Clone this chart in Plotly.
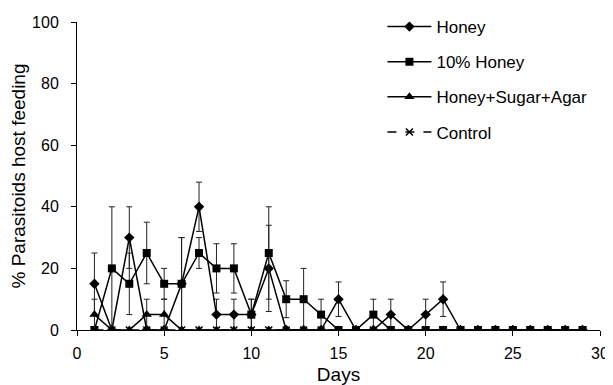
import plotly.graph_objects as go

days = list(range(1, 30))
honey = [15, 0, 30, 0, 0, 15, 40, 5, 5, 5, 20, 0, 0, 0, 10, 0, 0, 5, 0, 5, 10, 0, 0, 0, 0, 0, 0, 0, 0]
honey_err = [10, 0, 10, 0, 0, 15, 8, 5, 5, 5, 14, 0, 0, 0, 5.6, 0, 0, 5, 0, 5, 5.6, 0, 0, 0, 0, 0, 0, 0, 0]
honey10 = [0, 20, 15, 25, 15, 15, 25, 20, 20, 5, 25, 10, 10, 5, 0, 0, 5, 0, 0, 0, 0, 0, 0, 0, 0, 0, 0, 0, 0]
honey10_err = [0, 20, 10, 10, 5, 15, 5, 8, 8, 5, 15, 6, 10, 5, 0, 0, 5, 0, 0, 0, 0, 0, 0, 0, 0, 0, 0, 0, 0]
hsa = [5, 0, 0, 5, 5, 0, 0, 0, 0, 0, 0, 0, 0, 0, 0, 0, 0, 0, 0, 0, 0, 0, 0, 0, 0, 0, 0, 0, 0]
hsa_err = [5, 0, 0, 5, 5, 0, 0, 0, 0, 0, 0, 0, 0, 0, 0, 0, 0, 0, 0, 0, 0, 0, 0, 0, 0, 0, 0, 0, 0]
control = [0] * 29
names = ["Honey", "10% Honey", "Honey+Sugar+Agar", "Control"]

FONT = "Liberation Sans, Arial, sans-serif"
fig = go.Figure()

def eb(err):
    return dict(type="data", array=err, visible=True, color="#222", thickness=1, width=3)

fig.add_trace(go.Scatter(x=days, y=honey, name=names[0], mode="lines+markers",
                         line=dict(color="black", width=1.5),
                         marker=dict(symbol="diamond", size=8, color="black"),
                         error_y=eb(honey_err), legendgroup="a"))
fig.add_trace(go.Scatter(x=days, y=honey10, name=names[1], mode="lines+markers",
                         line=dict(color="black", width=1.5),
                         marker=dict(symbol="square", size=8, color="black"),
                         error_y=eb(honey10_err), legendgroup="b"))
fig.add_trace(go.Scatter(x=days, y=hsa, name=names[2], mode="lines+markers",
                         line=dict(color="black", width=1.5),
                         marker=dict(symbol="triangle-up", size=9, color="black"),
                         error_y=eb(hsa_err), legendgroup="c"))
fig.add_trace(go.Scatter(x=days, y=control, name=names[3], mode="lines+markers",
                         line=dict(color="black", width=1.5, dash="dash"),
                         marker=dict(symbol="x-thin", size=7, color="black",
                                     line=dict(color="black", width=1.5)),
                         legendgroup="d"))

# page body has an 8px default margin, so the figure is sized to fit the window
fig.update_layout(
    width=605, height=377,
    margin=dict(l=69, r=13, t=14, b=55, autoexpand=False),
    paper_bgcolor="white", plot_bgcolor="white",
    font=dict(family=FONT, size=16, color="black"),
    legend=dict(x=0.584, y=1.042, xanchor="left", yanchor="top",
                tracegroupgap=10, itemwidth=44,
                bgcolor="rgba(0,0,0,0)", font=dict(size=17)),
    xaxis=dict(range=[0, 30], tickvals=[0, 5, 10, 15, 20, 25, 30],
               showline=True, linecolor="black", linewidth=1,
               ticks="outside", ticklen=5, tickcolor="black",
               ticklabelstandoff=4,
               showgrid=False, zeroline=False, automargin=False,
               title=dict(text="Days", standoff=14)),
    yaxis=dict(range=[0, 100], tickvals=[0, 20, 40, 60, 80, 100],
               showline=True, linecolor="black", linewidth=1,
               ticks="outside", ticklen=5, tickcolor="black",
               ticklabelstandoff=9, automargin=False,
               showgrid=False, zeroline=False,
               title=dict(text="% Parasitoids host feeding", standoff=3)),
)

fig.write_html("out.html")
